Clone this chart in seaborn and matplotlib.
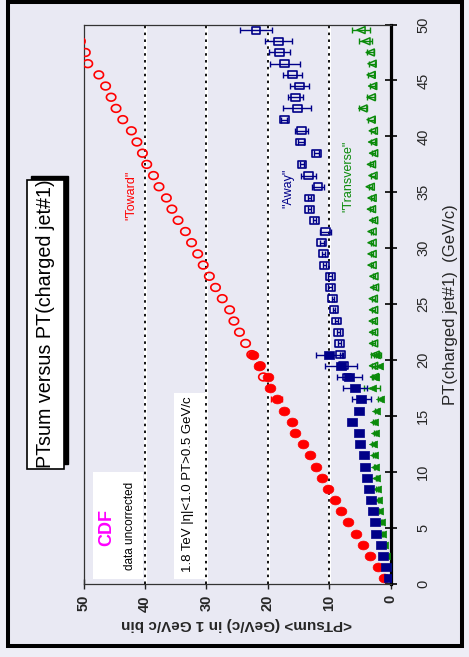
import numpy as np
import pandas as pd
import matplotlib
matplotlib.use("Agg")
import matplotlib.pyplot as plt
import seaborn as sns
from matplotlib.path import Path
from matplotlib.patches import Rectangle
from matplotlib import font_manager

# ---------------- data ----------------
pt_filled = [0.5, 1.5, 2.5, 3.5, 4.5, 5.5, 6.5, 7.5, 8.5, 9.5, 10.5,
             11.5, 12.5, 13.5, 14.5, 15.5, 16.5, 17.5, 18.5, 19.5, 20.5]
toward_filled = [1.0, 2.0, 3.3, 4.5, 5.7, 6.9, 8.0, 9.1, 10.2, 11.2, 12.1,
                 13.1, 14.2, 15.5, 16.1, 17.3, 18.5, 19.65, 19.9, 21.4, 22.4]
toward_filled_err = [0.1, 0.1, 0.1, 0.1, 0.1, 0.1, 0.1, 0.1, 0.1, 0.1, 0.1,
                     0.1, 0.1, 0.2, 0.2, 0.3, 0.9, 0.4, 0.5, 0.6, 0.5]
away_filled = [0.3, 0.7, 1.25, 1.6, 2.3, 2.55, 2.9, 3.2, 3.5, 3.8, 4.1,
               4.3, 5.0, 5.1, 6.2, 5.1, 4.75, 5.75, 6.7, 8.0, 10.0]
away_filled_err = [0.05, 0.05, 0.05, 0.05, 0.1, 0.1, 0.1, 0.1, 0.1, 0.1, 0.1,
                   0.2, 0.2, 0.3, 0.3, 0.4, 1.6, 2.0, 2.0, 2.6, 2.2]
trans_filled = [0.3, 0.6, 0.8, 1.0, 1.35, 1.5, 1.9, 2.0, 2.2, 2.3, 2.55,
                2.7, 2.8, 2.55, 2.7, 2.3, 1.7, 3.0, 2.55, 1.95, 2.3]
trans_filled_err = [0.05, 0.05, 0.05, 0.05, 0.05, 0.1, 0.1, 0.1, 0.1, 0.1, 0.1,
                    0.1, 0.2, 0.2, 0.2, 0.2, 0.3, 1.3, 0.5, 0.6, 0.8]

pt_open = [18.5, 19.5, 20.5, 21.5, 22.5, 23.5, 24.5, 25.5, 26.5, 27.5, 28.5,
           29.5, 30.5, 31.5, 32.5, 33.5, 34.5, 35.5, 36.5, 37.5, 38.5, 39.5,
           40.5, 41.5, 42.5, 43.5, 44.5, 45.5, 46.5, 47.5, 48.5, 49.5]
toward_open = [20.7, 21.2, 22.6, 23.6, 24.6, 25.5, 26.2, 27.4, 28.5, 29.5, 30.5,
               31.4, 32.4, 33.4, 34.6, 35.6, 36.5, 37.7, 38.6, 39.7, 40.4, 41.3,
               42.2, 43.6, 44.7, 45.5, 46.4, 47.5, 49.3, 49.7, 50.5, np.nan]
away_open = [7.1, 7.6, 8.1, 8.3, 8.5, 8.8, 9.2, 9.4, 9.8, 9.8, 10.75,
             10.9, 11.2, 10.6, 12.4, 13.2, 13.2, 11.8, 13.3, 14.4, 12.0, 14.6,
             14.5, 17.3, 15.2, 15.5, 14.8, 15.9, 17.2, 18.1, 18.2, 21.9]
away_open_err = [0.2, 0.2, 0.2, 0.2, 0.2, 0.2, 0.2, 0.2, 0.3, 0.3, 0.3,
                 0.3, 0.3, 0.9, 0.3, 0.3, 0.3, 1.0, 1.2, 0.3, 0.4, 0.5,
                 1.1, 0.5, 2.3, 1.2, 1.6, 1.55, 2.5, 1.75, 2.2, 2.6]
trans_open = [2.6, 2.75, 2.5, 2.75, 2.75, 2.8, 2.75, 2.8, 2.6, 2.7, 3.0,
              3.0, 3.0, 3.0, 2.75, 3.1, 3.0, 3.3, 2.85, 3.1, 2.75, 2.9,
              2.8, 3.15, 4.5, 3.15, 2.9, 3.15, 3.0, 3.3, 4.0, 4.8]
trans_open_err = [0.2, 0.2, 0.2, 0.2, 0.2, 0.2, 0.2, 0.2, 0.2, 0.2, 0.2,
                  0.2, 0.2, 0.2, 0.2, 0.25, 0.25, 0.25, 0.25, 0.25, 0.3, 0.3,
                  0.3, 0.5, 0.6, 0.6, 0.4, 0.5, 0.5, 0.6, 1.05, 1.4]

ptsum_ticks = [0, 10, 20, 30, 40, 50]
pt_ticks = [0, 5, 10, 15, 20, 25, 30, 35, 40, 45, 50]

# ---------------- style ----------------
BG = "#E9E9F3"
OUTER = "#EEEEF6"
RED = "#FF0000"
NAVY = "#000088"
GREEN = "#0A8A0A"

sns.set_theme(style="darkgrid", rc={"axes.facecolor": BG, "figure.facecolor": OUTER})
plt.rcParams['font.family'] = ['Liberation Sans', 'DejaVu Sans']

installed = {f.name for f in font_manager.fontManager.ttflist}
NARROW = "Liberation Sans Narrow" if "Liberation Sans Narrow" in installed else None

W, H = 469, 657
fig = plt.figure(figsize=(W / 100, H / 100), dpi=100)


def fx(px):
    return px / W


def fy(py):
    return 1 - py / H


# outer black frame
fig.patches.append(Rectangle((fx(8), fy(645.5)), fx(462) - fx(8), fy(1.5) - fy(645.5),
                             transform=fig.transFigure, facecolor=BG,
                             edgecolor="black", linewidth=2.9, zorder=-1))

AX_L, AX_R, AX_T, AX_B = 83.5, 390.5, 24.5, 584.0
ax = fig.add_axes([fx(AX_L), fy(AX_B), (AX_R - AX_L) / W, (AX_B - AX_T) / H])


def axc(px, py):
    return ((px - AX_L) / (AX_R - AX_L), (AX_B - py) / (AX_B - AX_T))


# marker shapes (slightly wide, like the stretched original)
t = np.linspace(0, 2 * np.pi, 41)
ELL = Path(np.column_stack([np.cos(t), 0.82 * np.sin(t)]))
RECT = Path([(-1, -0.78), (1, -0.78), (1, 0.78), (-1, 0.78), (-1, -0.78)], closed=True)
TRI = Path([(-1, 0), (1, 0.85), (1, -0.85), (-1, 0)], closed=True)

df_f = pd.DataFrame({"pt": pt_filled, "toward": toward_filled, "tow_err": toward_filled_err,
                     "away": away_filled, "away_err": away_filled_err,
                     "trans": trans_filled, "trans_err": trans_filled_err})
df_o = pd.DataFrame({"pt": pt_open, "toward": toward_open,
                     "away": away_open, "away_err": away_open_err,
                     "trans": trans_open, "trans_err": trans_open_err})

# grid: white band + black dotted lines
ax.grid(False)
for v in ptsum_ticks[1:-1]:
    ax.axvline(v, color="white", lw=2.2, zorder=0.8)
    ax.axvline(v, color="black", lw=1.3, ls=(0, (1.4, 2.4)), zorder=0.9)

eb = dict(fmt="none", elinewidth=1.0, capsize=2.4, capthick=1.0, zorder=2)

# Toward (red)
ax.errorbar(df_f["toward"], df_f["pt"], xerr=df_f["tow_err"], ecolor=RED, **eb)
sns.scatterplot(data=df_o, x="toward", y="pt", ax=ax, marker=ELL, s=46, facecolor="none",
                edgecolor=RED, color=RED, linewidth=1.2, zorder=3, legend=False)
sns.scatterplot(data=df_f, x="toward", y="pt", ax=ax, marker=ELL, s=60, color=RED,
                edgecolor=RED, linewidth=0.5, zorder=3, legend=False)

# Transverse (green)
ax.errorbar(df_f["trans"], df_f["pt"], xerr=df_f["trans_err"], ecolor=GREEN, **eb)
ax.errorbar(df_o["trans"], df_o["pt"], xerr=df_o["trans_err"], ecolor=GREEN, **eb)
sns.scatterplot(data=df_o, x="trans", y="pt", ax=ax, marker=TRI, s=34, facecolor="none",
                edgecolor=GREEN, color=GREEN, linewidth=1.1, zorder=3, legend=False)
sns.scatterplot(data=df_f, x="trans", y="pt", ax=ax, marker=TRI, s=34, color=GREEN,
                edgecolor=GREEN, linewidth=0.5, zorder=3, legend=False)

# Away (navy)
ax.errorbar(df_f["away"], df_f["pt"], xerr=df_f["away_err"], ecolor=NAVY, **eb)
ax.errorbar(df_o["away"], df_o["pt"], xerr=df_o["away_err"], ecolor=NAVY, **eb)
sns.scatterplot(data=df_o, x="away", y="pt", ax=ax, marker=RECT, s=40, facecolor="none",
                edgecolor=NAVY, color=NAVY, linewidth=1.2, zorder=4, legend=False)
sns.scatterplot(data=df_f, x="away", y="pt", ax=ax, marker=RECT, s=50, color=NAVY,
                edgecolor=NAVY, linewidth=0.5, zorder=4, legend=False)

# axes limits / ticks
ax.set_xlim(50, 0)
ax.set_ylim(0, 50)
ax.set_xticks(ptsum_ticks)
ax.set_xticklabels([str(v) for v in ptsum_ticks], rotation=90, fontweight="bold", fontsize=10.5)
ax.yaxis.tick_right()
ax.set_yticks(pt_ticks)
ax.set_yticklabels([str(v) for v in pt_ticks], rotation=90, fontsize=10.5, va="center")
ax.tick_params(axis="x", direction="inout", length=7, width=1.0, color="#222222",
               pad=4.5, bottom=True)
ax.tick_params(axis="y", direction="inout", length=9, width=1.2, color="black",
               pad=14, right=True, left=False)

for side in ["left", "top", "bottom"]:
    ax.spines[side].set_visible(True)
    ax.spines[side].set_color("#333333")
    ax.spines[side].set_linewidth(0.9)
ax.spines["right"].set_visible(True)
ax.spines["right"].set_color("black")
ax.spines["right"].set_linewidth(2.3)

ax.set_xlabel("<PTsum> (GeV/c) in 1 GeV/c bin", rotation=180, fontweight="bold",
              fontsize=11, va="center", ha="center")
ax.xaxis.set_label_coords(0.5, axc(0, 624)[1])
ax.yaxis.set_label_position("right")
ax.set_ylabel("PT(charged jet#1)  (GeV/c)", rotation=90, fontsize=12,
              va="center", ha="center")
ax.yaxis.set_label_coords(axc(451, 0)[0], 0.5)

# white boxes inside the axes
for (x0, y0, x1, y1) in [(93, 472, 143, 579), (174, 393, 205, 579)]:
    a0 = axc(x0, y1)
    a1 = axc(x1, y0)
    ax.add_patch(Rectangle(a0, a1[0] - a0[0], a1[1] - a0[1], transform=ax.transAxes,
                           facecolor="white", edgecolor="none", zorder=0.5))

ax.text(*axc(107, 527), "CDF", transform=ax.transAxes, rotation=90, color="#FF00FF",
        fontweight="bold", fontsize=13, ha="center", va="center", zorder=5)
ax.text(*axc(130, 526), "data uncorrected", transform=ax.transAxes, rotation=90,
        color="black", fontsize=8.5, ha="center", va="center", zorder=5)
ax.text(*axc(188, 484), "1.8 TeV |η|<1.0 PT>0.5 GeV/c", transform=ax.transAxes,
        rotation=90, color="black", fontsize=9.5, ha="center", va="center", zorder=5)
ax.text(*axc(131, 195), "\"Toward\"", transform=ax.transAxes, rotation=90, color=RED,
        fontsize=9, ha="center", va="center", zorder=5)
ax.text(*axc(288, 188), "\"Away\"", transform=ax.transAxes, rotation=90, color=NAVY,
        fontsize=9, ha="center", va="center", zorder=5)
ax.text(*axc(348, 176), "\"Transverse\"", transform=ax.transAxes, rotation=90,
        color=GREEN, fontsize=9, ha="center", va="center", zorder=5)

# title box with shadow
fig.patches.append(Rectangle((fx(31), fy(464)), fx(68) - fx(31), fy(176) - fy(464),
                             transform=fig.transFigure, facecolor="black",
                             edgecolor="black", zorder=2))
fig.patches.append(Rectangle((fx(27), fy(469)), fx(64) - fx(27), fy(180) - fy(469),
                             transform=fig.transFigure, facecolor="white",
                             edgecolor="black", linewidth=1.2, zorder=2.1))
if NARROW:
    title_family, title_size = [NARROW, 'Liberation Sans'], 16.5
else:
    title_family, title_size = ['Liberation Sans', 'DejaVu Sans'], 14.2
fig.text(fx(45.5), fy(324), "PTsum versus PT(charged jet#1)", rotation=90,
         fontsize=title_size, family=title_family, ha="center", va="center",
         color="black", zorder=3)

fig.savefig("out.png", dpi=100)
